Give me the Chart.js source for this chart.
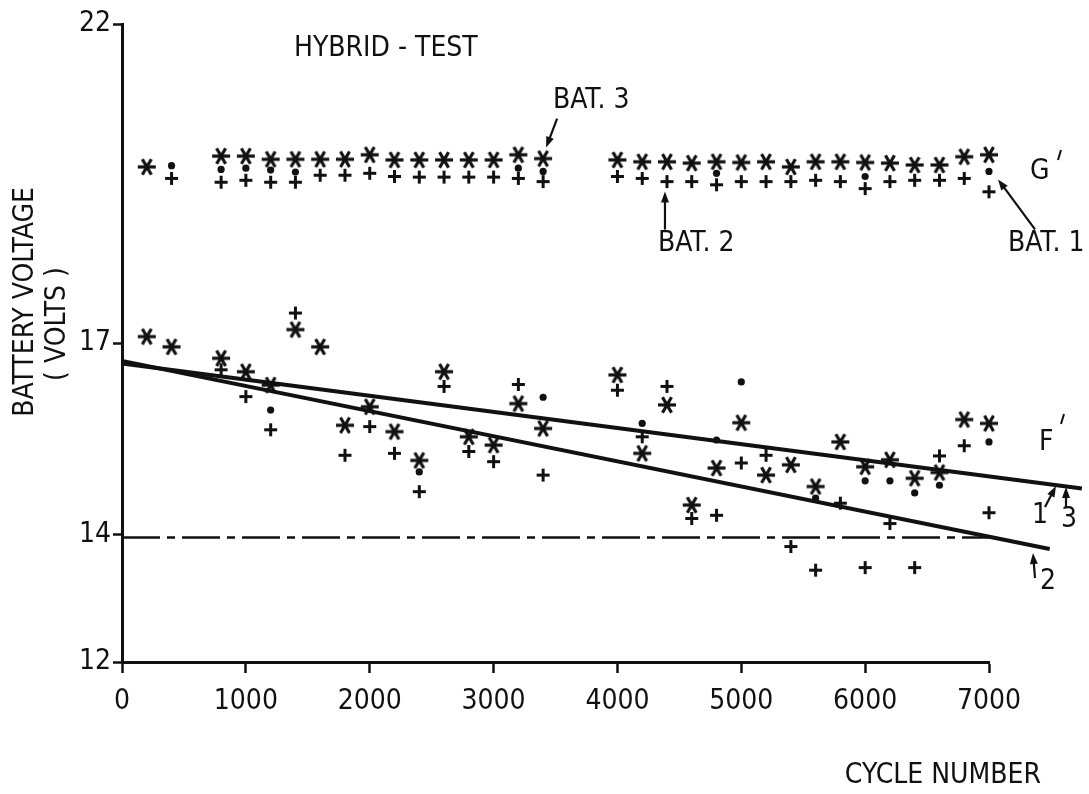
<!DOCTYPE html>
<html>
<head>
<meta charset="utf-8">
<title>Hybrid test - battery voltage</title>
<script src="https://cdn.jsdelivr.net/npm/chart.js@4"></script>
<style>
  html, body { margin: 0; padding: 0; background: #fff; }
  canvas { display: block; }
</style>
</head>
<body>
<canvas id="voltage_chart" width="1089" height="794"></canvas>
<script>
// cycle numbers where the three batteries were measured
var cycles = [200, 400, 800, 1000, 1200, 1400, 1600, 1800, 2000, 2200, 2400, 2600, 2800, 3000, 3200, 3400,
              4000, 4200, 4400, 4600, 4800, 5000, 5200, 5400, 5600, 5800, 6000, 6200, 6400, 6600, 6800, 7000];

// upper group (G') - end of charge voltage
var bat3Upper = [19.76, null, 19.93, 19.93, 19.88, 19.88, 19.88, 19.88, 19.95, 19.87, 19.87, 19.87, 19.87, 19.87, 19.95, 19.89,
                 19.87, 19.84, 19.84, 19.82, 19.84, 19.83, 19.84, 19.76, 19.84, 19.84, 19.83, 19.82, 19.79, 19.79, 19.92, 19.95];
var bat2Upper = [null, 19.58, 19.52, 19.55, 19.52, 19.52, 19.63, 19.63, 19.66, 19.61, 19.60, 19.60, 19.60, 19.60, 19.58, 19.53,
                 19.61, 19.58, 19.53, 19.53, 19.48, 19.53, 19.53, 19.53, 19.55, 19.53, 19.42, 19.53, 19.55, 19.55, 19.58, 19.37];
var bat1Upper = [null, 19.78, 19.72, 19.74, 19.71, 19.68, null, null, null, null, null, null, null, null, 19.74, 19.69,
                 null, null, null, null, 19.66, null, null, null, null, null, 19.61, null, null, null, null, 19.69];

// lower group (F') - end of discharge voltage
var bat3Lower = [17.10, 16.94, 16.76, 16.55, 16.34, 17.21, 16.94, 15.71, 16.00, 15.61, 15.16, 16.55, 15.53, 15.40, 16.05, 15.66,
                 16.50, 15.27, 16.03, 14.46, 15.04, 15.75, 14.93, 15.09, 14.75, 15.45, 15.06, 15.17, 14.88, 14.97, 15.80, 15.74];
var bat2Lower = [null, null, 16.58, 16.16, 15.64, 17.47, null, 15.24, 15.69, 15.27, 14.67, 16.32, 15.30, 15.14, 16.35, 14.93,
                 16.26, 15.53, 16.32, 14.25, 14.30, 15.12, 15.24, 13.81, 13.44, 14.49, 13.48, 14.17, 13.48, 15.23, 15.39, 14.34];
var bat1Lower = [null, null, null, null, 15.95, null, null, null, null, null, 14.98, null, null, null, null, 16.15,
                 null, 15.74, null, null, 15.48, 16.39, null, null, 14.57, null, 14.84, 14.84, 14.65, 14.77, null, 15.45];

// fitted trend lines and the 14 V limit
var fit13Cycles = [0, 7750];
var fit13Volts = [16.68, 14.72];
var fit2Cycles = [0, 7490];
var fit2Volts = [16.72, 13.77];
var limitCycles = [0, 7000];
var limitVolts = [13.95, 13.95];

// axis ticks
var xTicks = [0, 1000, 2000, 3000, 4000, 5000, 6000, 7000];
var yTicks = [12, 14, 17, 22];

var ink = '#111';
var family = "'Liberation Sans Narrow', 'DejaVu Sans Condensed', 'Roboto Condensed', sans-serif";
var fontSize = 28;

function toPoints(xs, ys) {
  var pts = [];
  for (var i = 0; i < xs.length; i++) {
    if (ys[i] !== null) pts.push({ x: xs[i], y: ys[i] });
  }
  return pts;
}

// 6 armed asterisk like the hand lettering
function asteriskMarker(size, width) {
  var c = document.createElement('canvas');
  c.width = c.height = size + 4;
  var g = c.getContext('2d');
  var r = size / 2, m = c.width / 2;
  g.strokeStyle = ink;
  g.lineWidth = width;
  [0, 60, 120].forEach(function (deg) {
    var a = deg * Math.PI / 180;
    g.beginPath();
    g.moveTo(m - r * Math.cos(a), m - r * Math.sin(a));
    g.lineTo(m + r * Math.cos(a), m + r * Math.sin(a));
    g.stroke();
  });
  return c;
}

function plusMarker(size, width) {
  var c = document.createElement('canvas');
  c.width = c.height = size + 4;
  var g = c.getContext('2d');
  var r = size / 2, m = c.width / 2;
  g.strokeStyle = ink;
  g.lineWidth = width;
  g.beginPath();
  g.moveTo(m - r, m); g.lineTo(m + r, m);
  g.moveTo(m, m - r); g.lineTo(m, m + r);
  g.stroke();
  return c;
}

var star = asteriskMarker(18, 3.2);
var plus = plusMarker(13, 3);

function markerSet(label, data, style) {
  var ds = { label: label, data: data, clip: false, borderColor: ink, backgroundColor: ink };
  if (style === 'dot') {
    ds.pointStyle = 'circle';
    ds.pointRadius = 3.6;
    ds.borderWidth = 0;
  } else {
    ds.pointStyle = style;
    ds.pointRadius = 8;
  }
  return ds;
}

function lineSet(label, data, width, dash) {
  return {
    label: label, data: data, showLine: true, clip: false,
    borderColor: ink, borderWidth: width, borderDash: dash || [],
    pointRadius: 0, borderCapStyle: 'butt'
  };
}

function arrow(ctx, x1, y1, x2, y2) {
  var a = Math.atan2(y2 - y1, x2 - x1);
  var len = 11, half = 4;
  ctx.lineWidth = 2.2;
  ctx.beginPath();
  ctx.moveTo(x1, y1);
  ctx.lineTo(x2 - Math.cos(a) * len * 0.8, y2 - Math.sin(a) * len * 0.8);
  ctx.stroke();
  ctx.beginPath();
  ctx.moveTo(x2, y2);
  ctx.lineTo(x2 - Math.cos(a) * len - Math.sin(a) * half, y2 - Math.sin(a) * len + Math.cos(a) * half);
  ctx.lineTo(x2 - Math.cos(a) * len + Math.sin(a) * half, y2 - Math.sin(a) * len - Math.cos(a) * half);
  ctx.closePath();
  ctx.fill();
}

// texts and arrows written on the original drawing
var annotations = {
  id: 'annotations',
  afterDatasetsDraw: function (chart) {
    var ctx = chart.ctx;
    var x = chart.scales.x, y = chart.scales.y;
    ctx.save();
    ctx.fillStyle = ink;
    ctx.strokeStyle = ink;
    ctx.font = fontSize + 'px ' + family;
    ctx.textBaseline = 'middle';
    ctx.textAlign = 'left';

    ctx.fillText('HYBRID - TEST', 294, 49);

    // BAT. 3 -> star at 3400
    var px = x.getPixelForValue(3400), py = y.getPixelForValue(bat3Upper[15]);
    ctx.fillText('BAT. 3', 553, 101);
    arrow(ctx, px + 14, py - 40, px + 3, py - 11);

    // BAT. 2 -> plus at 4400
    px = x.getPixelForValue(4400); py = y.getPixelForValue(bat2Upper[18]);
    ctx.fillText('BAT. 2', 658, 244);
    arrow(ctx, px - 2, py + 48, px - 2, py + 10);

    // BAT. 1 -> dot at 7000
    px = x.getPixelForValue(7000); py = y.getPixelForValue(bat1Upper[31]);
    ctx.fillText('BAT. 1', 1008, 244);
    arrow(ctx, px + 46, py + 58, px + 9, py + 8);

    ctx.fillText('G', 1030, 172);
    ctx.fillText('F', 1039, 443);
    ctx.lineWidth = 2;
    ctx.beginPath();
    ctx.moveTo(1061, 150); ctx.lineTo(1058, 160);
    ctx.moveTo(1064, 414); ctx.lineTo(1061, 424);
    ctx.stroke();

    // line numbers
    ctx.fillText('1', 1032, 516);
    ctx.fillText('3', 1061, 520);
    ctx.fillText('2', 1040, 582);
    arrow(ctx, 1045, 507, 1056, 486);
    arrow(ctx, 1066, 507, 1066, 487);
    arrow(ctx, 1035, 578, 1033, 553);

    // axis titles
    ctx.textAlign = 'right';
    ctx.fillText('CYCLE NUMBER', 1041, 776);
    ctx.textAlign = 'center';
    ctx.translate(26, 302);
    ctx.rotate(-Math.PI / 2);
    ctx.fillText('BATTERY VOLTAGE', 0, 0);
    ctx.fillText('( VOLTS )', -22, 32);
    ctx.restore();
  }
};

function plainLabel(value) {
  return String(value);
}

var ctx = document.getElementById('voltage_chart').getContext('2d');
var chart = new Chart(ctx, {
  type: 'scatter',
  data: {
    datasets: [
      lineSet('Trend 1 / 3', toPoints(fit13Cycles, fit13Volts), 4),
      lineSet('Trend 2', toPoints(fit2Cycles, fit2Volts), 4),
      lineSet('14 V', toPoints(limitCycles, limitVolts), 2.5, [38, 7, 8, 7]),
      markerSet('BAT. 3 (G\')', toPoints(cycles, bat3Upper), star),
      markerSet('BAT. 2 (G\')', toPoints(cycles, bat2Upper), plus),
      markerSet('BAT. 1 (G\')', toPoints(cycles, bat1Upper), 'dot'),
      markerSet('BAT. 3 (F\')', toPoints(cycles, bat3Lower), star),
      markerSet('BAT. 2 (F\')', toPoints(cycles, bat2Lower), plus),
      markerSet('BAT. 1 (F\')', toPoints(cycles, bat1Lower), 'dot')
    ]
  },
  options: {
    responsive: false,
    animation: false,
    layout: { padding: { top: 24, right: 100, bottom: 0, left: 0 } },
    plugins: {
      legend: { display: false },
      tooltip: { enabled: false }
    },
    scales: {
      x: {
        type: 'linear',
        min: 0,
        max: 7000,
        afterFit: function (scale) { scale.height = 132; },
        afterBuildTicks: function (scale) {
          scale.ticks = xTicks.map(function (v) { return { value: v }; });
        },
        grid: { drawOnChartArea: false, color: ink, tickLength: 11, tickWidth: 2.5 },
        border: { color: ink, width: 3 },
        ticks: { color: ink, font: { family: family, size: fontSize }, padding: 12, maxRotation: 0,
                 autoSkip: false, callback: plainLabel }
      },
      y: {
        type: 'linear',
        min: 12,
        max: 22,
        afterFit: function (scale) { scale.width = 122; },
        afterBuildTicks: function (scale) {
          scale.ticks = yTicks.map(function (v) { return { value: v }; });
        },
        grid: { drawOnChartArea: false, color: ink, tickLength: 9, tickWidth: 2.5 },
        border: { color: ink, width: 3 },
        ticks: { color: ink, font: { family: family, size: fontSize }, padding: 2, autoSkip: false,
                 callback: plainLabel }
      }
    }
  },
  plugins: [annotations]
});
</script>
</body>
</html>
